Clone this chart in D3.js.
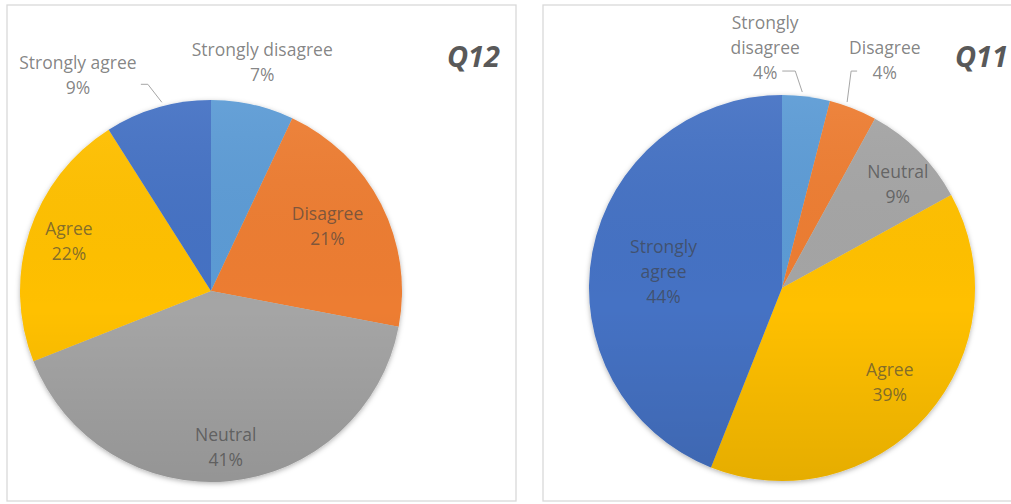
<!DOCTYPE html>
<html>
<head>
<meta charset="utf-8">
<script src="https://cdn.jsdelivr.net/npm/d3@7"></script>
<style>
  body { margin: 0; background: #fff; }
  svg { display: block; }
</style>
</head>
<body>
<svg id="chart" width="1011" height="504"></svg>
<script>
// Survey answers, share of respondents (%)
const categories = ["Strongly disagree", "Disagree", "Neutral", "Agree", "Strongly agree"];
const q12Values = [7, 21, 41, 22, 9];
const q11Values = [4, 4, 9, 39, 44];

// How each category name is wrapped in the data labels
const q12LabelLines = [["Strongly disagree"], ["Disagree"], ["Neutral"], ["Agree"], ["Strongly agree"]];
const q11LabelLines = [["Strongly", "disagree"], ["Disagree"], ["Neutral"], ["Agree"], ["Strongly", "agree"]];

const sliceColors = ["#5B9BD5", "#ED7D31", "#A5A5A5", "#FFC000", "#4472C4"];

// Panel layout: frame, pie placement, label placement (radius factor, angle nudge in degrees)
const panels = [
  {
    title: "Q12", values: q12Values, lines: q12LabelLines,
    frame: [7, 5, 509, 496], cx: 211, cy: 291, r: 191, titleX: 500, titleY: 67,
    labelPlace: [[1.23, 0], [0.70, -2.4], [0.82, 0], [0.79, 1.6], [1.33, -15.4]],
    leaders: { 4: { da: 1.6, elbow: [-14, -18], tail: -7 } }
  },
  {
    title: "Q11", values: q11Values, lines: q11LabelLines,
    frame: [543, 5, 490, 496], cx: 782, cy: 288, r: 193, titleX: 1008, titleY: 67,
    labelPlace: [[1.25, -11.2], [1.30, 2.6], [0.81, 2.8], [0.74, -0.4], [0.62, -2.8]],
    leaders: { 0: { da: -1.3, elbow: [-7, -21], tail: -13 }, 1: { da: -2.3, elbow: [4, -31], tail: 6 } }
  }
];

const svg = d3.select("#chart");
const defs = svg.append("defs");

const shadow = defs.append("filter").attr("id", "pieShadow")
  .attr("x", "-10%").attr("y", "-10%").attr("width", "120%").attr("height", "120%");
shadow.append("feDropShadow")
  .attr("dx", 0).attr("dy", 1.5).attr("stdDeviation", 2.5)
  .attr("flood-color", "#000").attr("flood-opacity", 0.3);

const shade = defs.append("linearGradient").attr("id", "pieShade")
  .attr("x1", 0).attr("y1", 0).attr("x2", 0).attr("y2", 1);
shade.append("stop").attr("offset", "0%").attr("stop-color", "#fff").attr("stop-opacity", 0.06);
shade.append("stop").attr("offset", "55%").attr("stop-color", "#000").attr("stop-opacity", 0.0);
shade.append("stop").attr("offset", "100%").attr("stop-color", "#000").attr("stop-opacity", 0.1);

const color = d3.scaleOrdinal().domain(categories).range(sliceColors);
const pie = d3.pie().sort(null).value(d => d.value);
const rad = deg => deg * Math.PI / 180;
const polar = (a, rho) => [rho * Math.sin(a), -rho * Math.cos(a)];

const fontFamily = "'Open Sans', 'Liberation Sans', sans-serif";
const lineHeight = 25;

panels.forEach(p => {
  // chart frame
  svg.append("rect")
    .attr("x", p.frame[0]).attr("y", p.frame[1])
    .attr("width", p.frame[2]).attr("height", p.frame[3])
    .attr("fill", "#fff").attr("stroke", "#d9d9d9").attr("stroke-width", 1.3);

  const data = categories.map((c, i) => ({ category: c, value: p.values[i], lines: p.lines[i], idx: i }));
  const arcs = pie(data);
  const arc = d3.arc().innerRadius(0).outerRadius(p.r);

  const g = svg.append("g").attr("transform", `translate(${p.cx},${p.cy})`);

  const pieG = g.append("g").attr("filter", "url(#pieShadow)");
  pieG.selectAll("path.slice")
    .data(arcs)
    .join("path")
    .attr("class", "slice")
    .attr("d", arc)
    .attr("fill", d => color(d.data.category));

  // soft top-to-bottom shading across the whole pie
  g.append("circle").attr("r", p.r).attr("fill", "url(#pieShade)");

  // leader lines
  arcs.forEach(d => {
    const L = p.leaders[d.data.idx];
    if (!L) return;
    const mid = (d.startAngle + d.endAngle) / 2 + rad(L.da);
    const end = polar(mid, p.r + 4);
    const elbow = [end[0] + L.elbow[0], end[1] + L.elbow[1]];
    const start = [elbow[0] + L.tail, elbow[1]];
    g.append("path")
      .attr("d", d3.line()([start, elbow, end]))
      .attr("fill", "none").attr("stroke", "#a6a6a6").attr("stroke-width", 1);
  });

  // data labels: category name + percentage
  arcs.forEach(d => {
    const [fr, da] = p.labelPlace[d.data.idx];
    const mid = (d.startAngle + d.endAngle) / 2 + rad(da);
    const [lx, ly] = polar(mid, p.r * fr);
    const lines = d.data.lines.concat([d.data.value + "%"]);
    const t = g.append("text")
      .attr("x", lx).attr("y", ly - (lines.length - 1) * lineHeight / 2)
      .attr("text-anchor", "middle")
      .attr("dominant-baseline", "central")
      .attr("font-family", fontFamily)
      .attr("font-size", 17.5)
      .attr("fill", "#404040")
      .attr("fill-opacity", 0.65);
    lines.forEach((s, k) => {
      t.append("tspan").attr("x", lx).attr("dy", k === 0 ? 0 : lineHeight).text(s);
    });
  });

  // chart title
  svg.append("text")
    .attr("x", p.titleX).attr("y", p.titleY)
    .attr("text-anchor", "end")
    .attr("font-family", fontFamily)
    .attr("font-size", 29)
    .attr("font-weight", 700)
    .attr("font-style", "italic")
    .attr("fill", "#595959")
    .text(p.title);
});
</script>
</body>
</html>
